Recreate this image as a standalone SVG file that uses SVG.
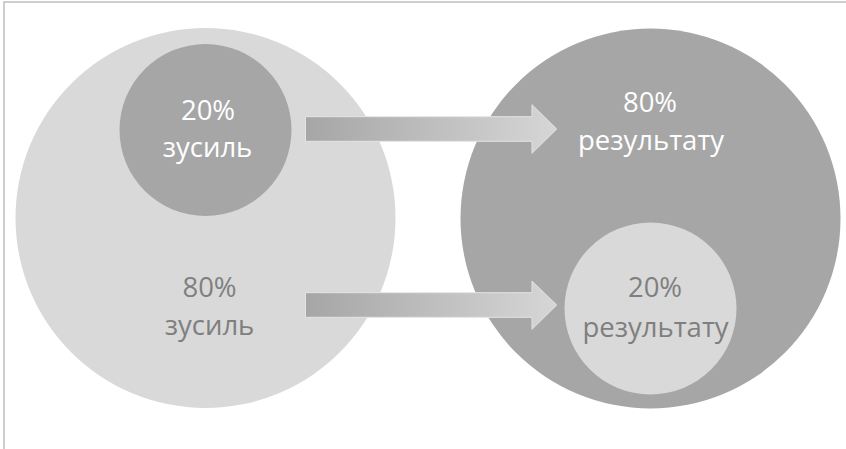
<svg xmlns="http://www.w3.org/2000/svg" width="846" height="449" viewBox="0 0 846 449">
<style>
.light{fill:#D9D9D9}
.dark{fill:#A6A6A6}
.t{font-family:"Open Sans","Noto Sans",sans-serif;font-size:27.5px;text-anchor:middle}
.w{fill:#FFFFFF}
.g{fill:#7F7F7F}
.arrow{fill:url(#grad);stroke:#E4E4E4;stroke-width:1}
</style>
<defs>
<linearGradient id="grad" x1="0" y1="0" x2="1" y2="0">
<stop offset="0" stop-color="#A6A6A6"/>
<stop offset="1" stop-color="#D6D6D6"/>
</linearGradient>
</defs>
<rect width="846" height="449" fill="#FFFFFF"/>
<g id="frame" fill="none" stroke="#BFBFBF" stroke-width="1.5">
<path d="M4 449 V2 H846"/>
</g>
<g id="effort80">
<circle class="light" cx="205.5" cy="218" r="190"/>
<text class="t g" x="209.5" y="297">80%</text>
<text class="t g" x="209.5" y="335">зусиль</text>
</g>
<g id="effort20">
<circle class="dark" cx="205.5" cy="130" r="86"/>
<text class="t w" x="208" y="120">20%</text>
<text class="t w" x="207.5" y="157">зусиль</text>
</g>
<g id="result80">
<circle class="dark" cx="650.5" cy="218.5" r="190"/>
<text class="t w" x="650" y="111.5">80%</text>
<text class="t w" x="651" y="150">результату</text>
</g>
<g id="result20">
<circle class="light" cx="650.5" cy="308.5" r="86"/>
<text class="t g" x="655" y="297">20%</text>
<text class="t g" x="655.5" y="336.5">результату</text>
</g>
<g id="connectors">
<path class="arrow" d="M305.5 116.7 H532 V104.7 L556.7 129 L532 153.3 V141.3 H305.5 Z"/>
<path class="arrow" d="M305.5 292.7 H532 V281 L556.7 305 L532 329.3 V317.3 H305.5 Z"/>
</g>
</svg>
